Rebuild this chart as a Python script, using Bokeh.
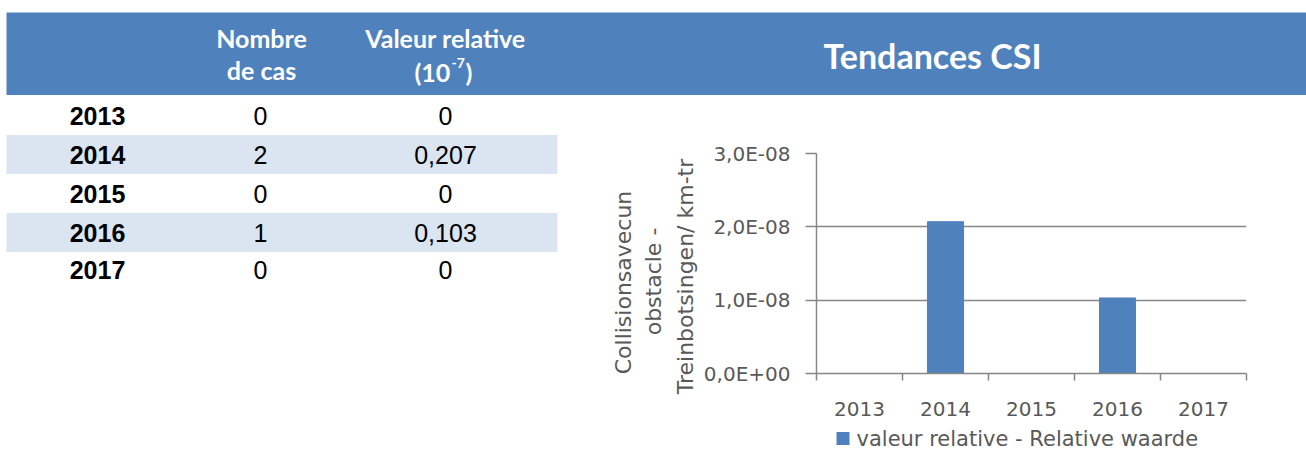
import math
from bokeh.plotting import figure
from bokeh.layouts import column, row
from bokeh.models import Range1d, FixedTicker, CustomJSTickFormatter
from bokeh.core.properties import value
from bokeh.embed import file_html
from bokeh.resources import INLINE

# ---------------- data ----------------
years = ["2013", "2014", "2015", "2016", "2017"]
nombre_de_cas = [0, 2, 0, 1, 0]
valeur_relative = [0, 0.207, 0, 0.103, 0]          # in units of 1e-7
scale_relative = 1e-7
y_ticks = [0, 1e-8, 2e-8, 3e-8]
header_col2 = ["Nombre", "de cas"]
header_col3 = "Valeur relative"
chart_title = "Tendances CSI"
y_title_lines = ["Collisionsavecun", "obstacle -", "Treinbotsingen/ km-tr"]
legend_label = "valeur relative - Relative waarde"

BLUE = "#4F81BD"
STRIPE = "#DBE5F1"
GREY_TXT = "#595959"
GRID = "#868686"

W = 1306
H_HDR, H_MID, H_LEG = 95, 330, 25
MID_TOP = H_HDR
MID_BOT = H_HDR + H_MID


def blank(width, height, x0, x1, y0, y1):
    f = figure(width=width, height=height, x_range=Range1d(x0, x1), y_range=Range1d(y1, y0),
               output_backend="svg", toolbar_location=None, x_axis_type=None, y_axis_type=None,
               min_border=0, outline_line_color=None, frame_align=False)
    f.xgrid.visible = False
    f.ygrid.visible = False
    return f


# ---------------- header band ----------------
hdr = blank(W, H_HDR, 0, W, 0, H_HDR)
hdr.quad(left=6, right=W, top=12, bottom=95, fill_color=BLUE, line_color=None)
hfont = dict(text_font=value("Lato"), text_font_style="bold", text_color="white",
             text_baseline="middle")
hdr.text(x=[261, 261], y=[37, 69], text=header_col2, text_font_size="25px",
         text_align="center", **hfont)
hdr.text(x=[445], y=[37], text=[header_col3], text_font_size="25px",
         text_align="center", **hfont)
# "(10" + superscript "-7" + ")"
hdr.text(x=[414], y=[71], text=["(10"], text_font_size="25px", text_align="left", **hfont)
hdr.text(x=[451], y=[62], text=["-7"], text_font_size="14px", text_align="left", **hfont)
hdr.text(x=[465], y=[71], text=[")"], text_font_size="25px", text_align="left", **hfont)
hdr.text(x=[932], y=[55], text=[chart_title], text_font_size="34px",
         text_align="center", **hfont)

# ---------------- table (page coordinates) ----------------
TBL_W = 700
tbl = blank(TBL_W, H_MID, 0, TBL_W, MID_TOP, MID_BOT)
row_y = [115, 154, 193, 232, 269]
stripe_rows = [y for i, y in enumerate(row_y) if i % 2 == 1]
tbl.quad(left=6, right=557, top=[y - 19.5 for y in stripe_rows],
         bottom=[y + 19.5 for y in stripe_rows], fill_color=STRIPE, line_color=None)
tbl.text(x=[97] * len(years), y=row_y, text=years, text_font=value("Liberation Sans"),
         text_font_style="bold", text_font_size="25px", text_color="black",
         text_align="center", text_baseline="middle")
tbl.text(x=[260] * len(years), y=row_y, text=[str(v) for v in nombre_de_cas],
         text_font=value("Liberation Sans"), text_font_size="25px", text_color="black",
         text_align="center", text_baseline="middle")
tbl.text(x=[445] * len(years), y=row_y,
         text=[f"{v:g}".replace(".", ",") for v in valeur_relative],
         text_font=value("Liberation Sans"), text_font_size="25px", text_color="black",
         text_align="center", text_baseline="middle")
# y-axis title of the chart (three rotated lines)
tbl.text(x=[623, 653, 685], y=[282, 281, 276], text=y_title_lines,
         text_font=value("DejaVu Sans"), text_font_size="22px", text_color=GREY_TXT,
         angle=math.pi / 2, text_align="center", text_baseline="middle")

# ---------------- chart ----------------
CH_W = W - TBL_W
ch = figure(width=CH_W, height=H_MID, x_range=Range1d(0, len(years)), y_range=Range1d(0, 3e-8),
            output_backend="svg", toolbar_location=None,
            min_border_left=113, min_border_right=60, min_border_top=58,
            min_border_bottom=MID_BOT - 373, outline_line_color=None, frame_align=False)
ch.xgrid.visible = False
ch.ygrid.ticker = FixedTicker(ticks=y_ticks[1:])
ch.ygrid.grid_line_color = GRID
ch.ygrid.grid_line_width = 1.5

xc = [i + 0.5 for i in range(len(years))]
vals = [v * scale_relative for v in valeur_relative]
bars = ch.vbar(x=xc, top=vals, width=0.42, fill_color=BLUE, line_color=BLUE)

ya = ch.yaxis[0]
ya.ticker = FixedTicker(ticks=y_ticks)
ya.formatter = CustomJSTickFormatter(code="""
var s = tick.toExponential(1); var p = s.split("e"); var e = parseInt(p[1]); var a = Math.abs(e);
return p[0].replace(".", ",") + "E" + (e < 0 ? "-" : "+") + (a < 10 ? "0" : "") + a;
""")
ya.axis_line_color = GRID
ya.axis_line_width = 1.5
ya.major_tick_line_color = GRID
ya.major_tick_line_width = 1.5
ya.major_tick_out = 11
ya.major_tick_in = 0
ya.minor_tick_line_color = None
ya.major_label_standoff = 15
ya.major_label_text_font = "DejaVu Sans"
ya.major_label_text_font_size = "20px"
ya.major_label_text_color = GREY_TXT

xa = ch.xaxis[0]
xa.ticker = FixedTicker(ticks=xc, minor_ticks=list(range(len(years) + 1)))
xa.major_label_overrides = {x: y for x, y in zip(xc, years)}
xa.axis_line_color = GRID
xa.axis_line_width = 1.5
xa.major_tick_line_color = None
xa.major_tick_out = 0
xa.major_tick_in = 0
xa.minor_tick_line_color = GRID
xa.minor_tick_line_width = 1.5
xa.minor_tick_out = 7
xa.minor_tick_in = 0
xa.major_label_standoff = 21
xa.major_label_text_font = "DejaVu Sans"
xa.major_label_text_font_size = "20px"
xa.major_label_text_color = GREY_TXT

# ---------------- legend strip ----------------
leg = blank(W, H_LEG, 0, W, MID_BOT, MID_BOT + H_LEG)
leg_y = 438
leg.quad(left=[836], right=[849], top=[leg_y - 6.5], bottom=[leg_y + 6.5],
         fill_color=BLUE, line_color=None)
leg.text(x=[856], y=[leg_y], text=[legend_label], text_font=value("DejaVu Sans"),
         text_font_size="21px", text_color=GREY_TXT, text_align="left",
         text_baseline="middle")

layout = column(hdr, row(tbl, ch, spacing=0), leg, spacing=0)
open("out.html", "w").write(file_html(layout, INLINE))
